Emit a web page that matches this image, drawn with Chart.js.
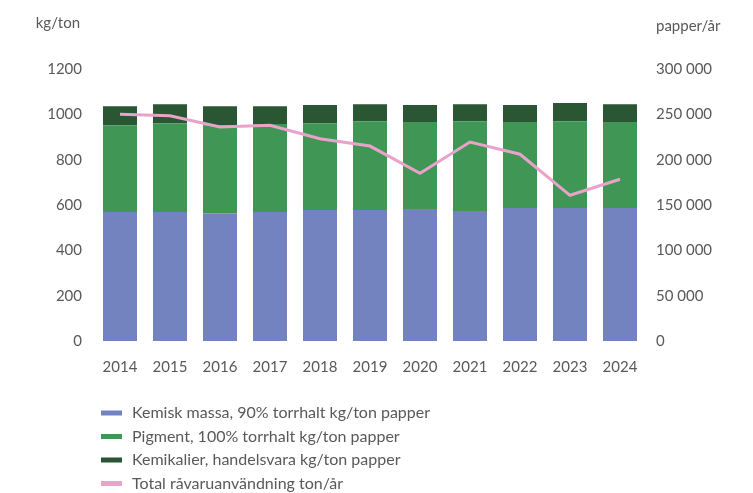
<!DOCTYPE html>
<html><head><meta charset="utf-8">
<script src="https://cdn.jsdelivr.net/npm/chart.js@4"></script>
<style>html,body{margin:0;padding:0;background:#fff}#w{width:753px;height:493px}</style>
</head><body><div id="w"><canvas id="c" width="753" height="493"></canvas></div>
<script>
const years = ['2014','2015','2016','2017','2018','2019','2020','2021','2022','2023','2024'];
const kemiskMassa = [569,569,564,569,578,578,582,573,587,587,587];
const pigment = [383,392,388,388,383,392,384,397,379,383,379];
const kemikalier = [84,84,84,79,80,75,75,75,75,80,79];
const totalRavara = [250000,248500,236000,238000,223000,215000,185000,219500,206000,160700,178400];
const leftTicks = [0,200,400,600,800,1000,1200];
const rightTicks = [0,50000,100000,150000,200000,250000,300000];

const FONT = 'Lato, "Open Sans", sans-serif';
const TXT = '#595959';
const fmt = v => String(v).replace(/\B(?=(\d{3})+(?!\d))/g, ' ');

const extras = {
  id: 'extras',
  afterDraw(chart) {
    const ctx = chart.ctx;
    ctx.save();
    ctx.fillStyle = TXT;
    ctx.font = '15px ' + FONT;
    ctx.textBaseline = 'middle';
    ctx.textAlign = 'right';
    ctx.fillText('kg/ton', 80, 23);
    ctx.textAlign = 'left';
    ctx.fillText('papper/år', 656, 26);
    // legend
    ctx.font = '16px ' + FONT;
    chart.data.datasets.forEach((ds, i) => {
      const y = 413 + i * 23.5;
      ctx.fillStyle = ds.legendColor;
      ctx.fillRect(101, y - 2.5, 21, 5);
      ctx.fillStyle = TXT;
      ctx.fillText(ds.label, 132, y);
    });
    ctx.restore();
  }
};

new Chart(document.getElementById('c'), {
  data: {
    labels: years,
    datasets: [
      {type:'bar', label:'Kemisk massa, 90% torrhalt kg/ton papper', data: kemiskMassa, yAxisID:'y',
       backgroundColor:'#7383C0', legendColor:'#7383C0', barPercentage:0.68, categoryPercentage:1, order:1},
      {type:'bar', label:'Pigment, 100% torrhalt kg/ton papper', data: pigment, yAxisID:'y',
       backgroundColor:'#3F9655', legendColor:'#3F9655', barPercentage:0.68, categoryPercentage:1, order:1},
      {type:'bar', label:'Kemikalier, handelsvara kg/ton papper', data: kemikalier, yAxisID:'y',
       backgroundColor:'#2A5634', legendColor:'#2A5634', barPercentage:0.68, categoryPercentage:1, order:1},
      {type:'line', label:'Total råvaruanvändning ton/år', data: totalRavara, yAxisID:'y1',
       borderColor:'#E9A3CB', backgroundColor:'#E9A3CB', legendColor:'#E9A3CB', borderWidth:3, pointRadius:0, tension:0, order:0}
    ]
  },
  options: {
    responsive:false, animation:false, devicePixelRatio:1,
    layout:{padding:{top:69,bottom:112,left:0,right:0}},
    plugins:{legend:{display:false}, tooltip:{enabled:false}},
    scales:{
      x:{stacked:true, grid:{display:false, drawTicks:false}, border:{display:false},
         ticks:{color:TXT, font:{family:FONT,size:15}, padding:17, maxRotation:0},
         afterFit(s){ s.height = 40; }},
      y:{stacked:true, position:'left', min:0, max:1200,
         grid:{display:false, drawTicks:false}, border:{display:false},
         afterBuildTicks(s){ s.ticks = leftTicks.map(v=>({value:v})); },
         ticks:{color:TXT, font:{family:FONT,size:15}, padding:13, callback:v=>String(v)},
         afterFit(s){ s.width = 95; }},
      y1:{position:'right', min:0, max:300000,
         grid:{display:false, drawTicks:false}, border:{display:false},
         afterBuildTicks(s){ s.ticks = rightTicks.map(v=>({value:v})); },
         ticks:{color:TXT, font:{family:FONT,size:15}, padding:11, callback:v=>fmt(v)},
         afterFit(s){ s.width = 108; }}
    }
  },
  plugins:[extras]
});
</script></body></html>
